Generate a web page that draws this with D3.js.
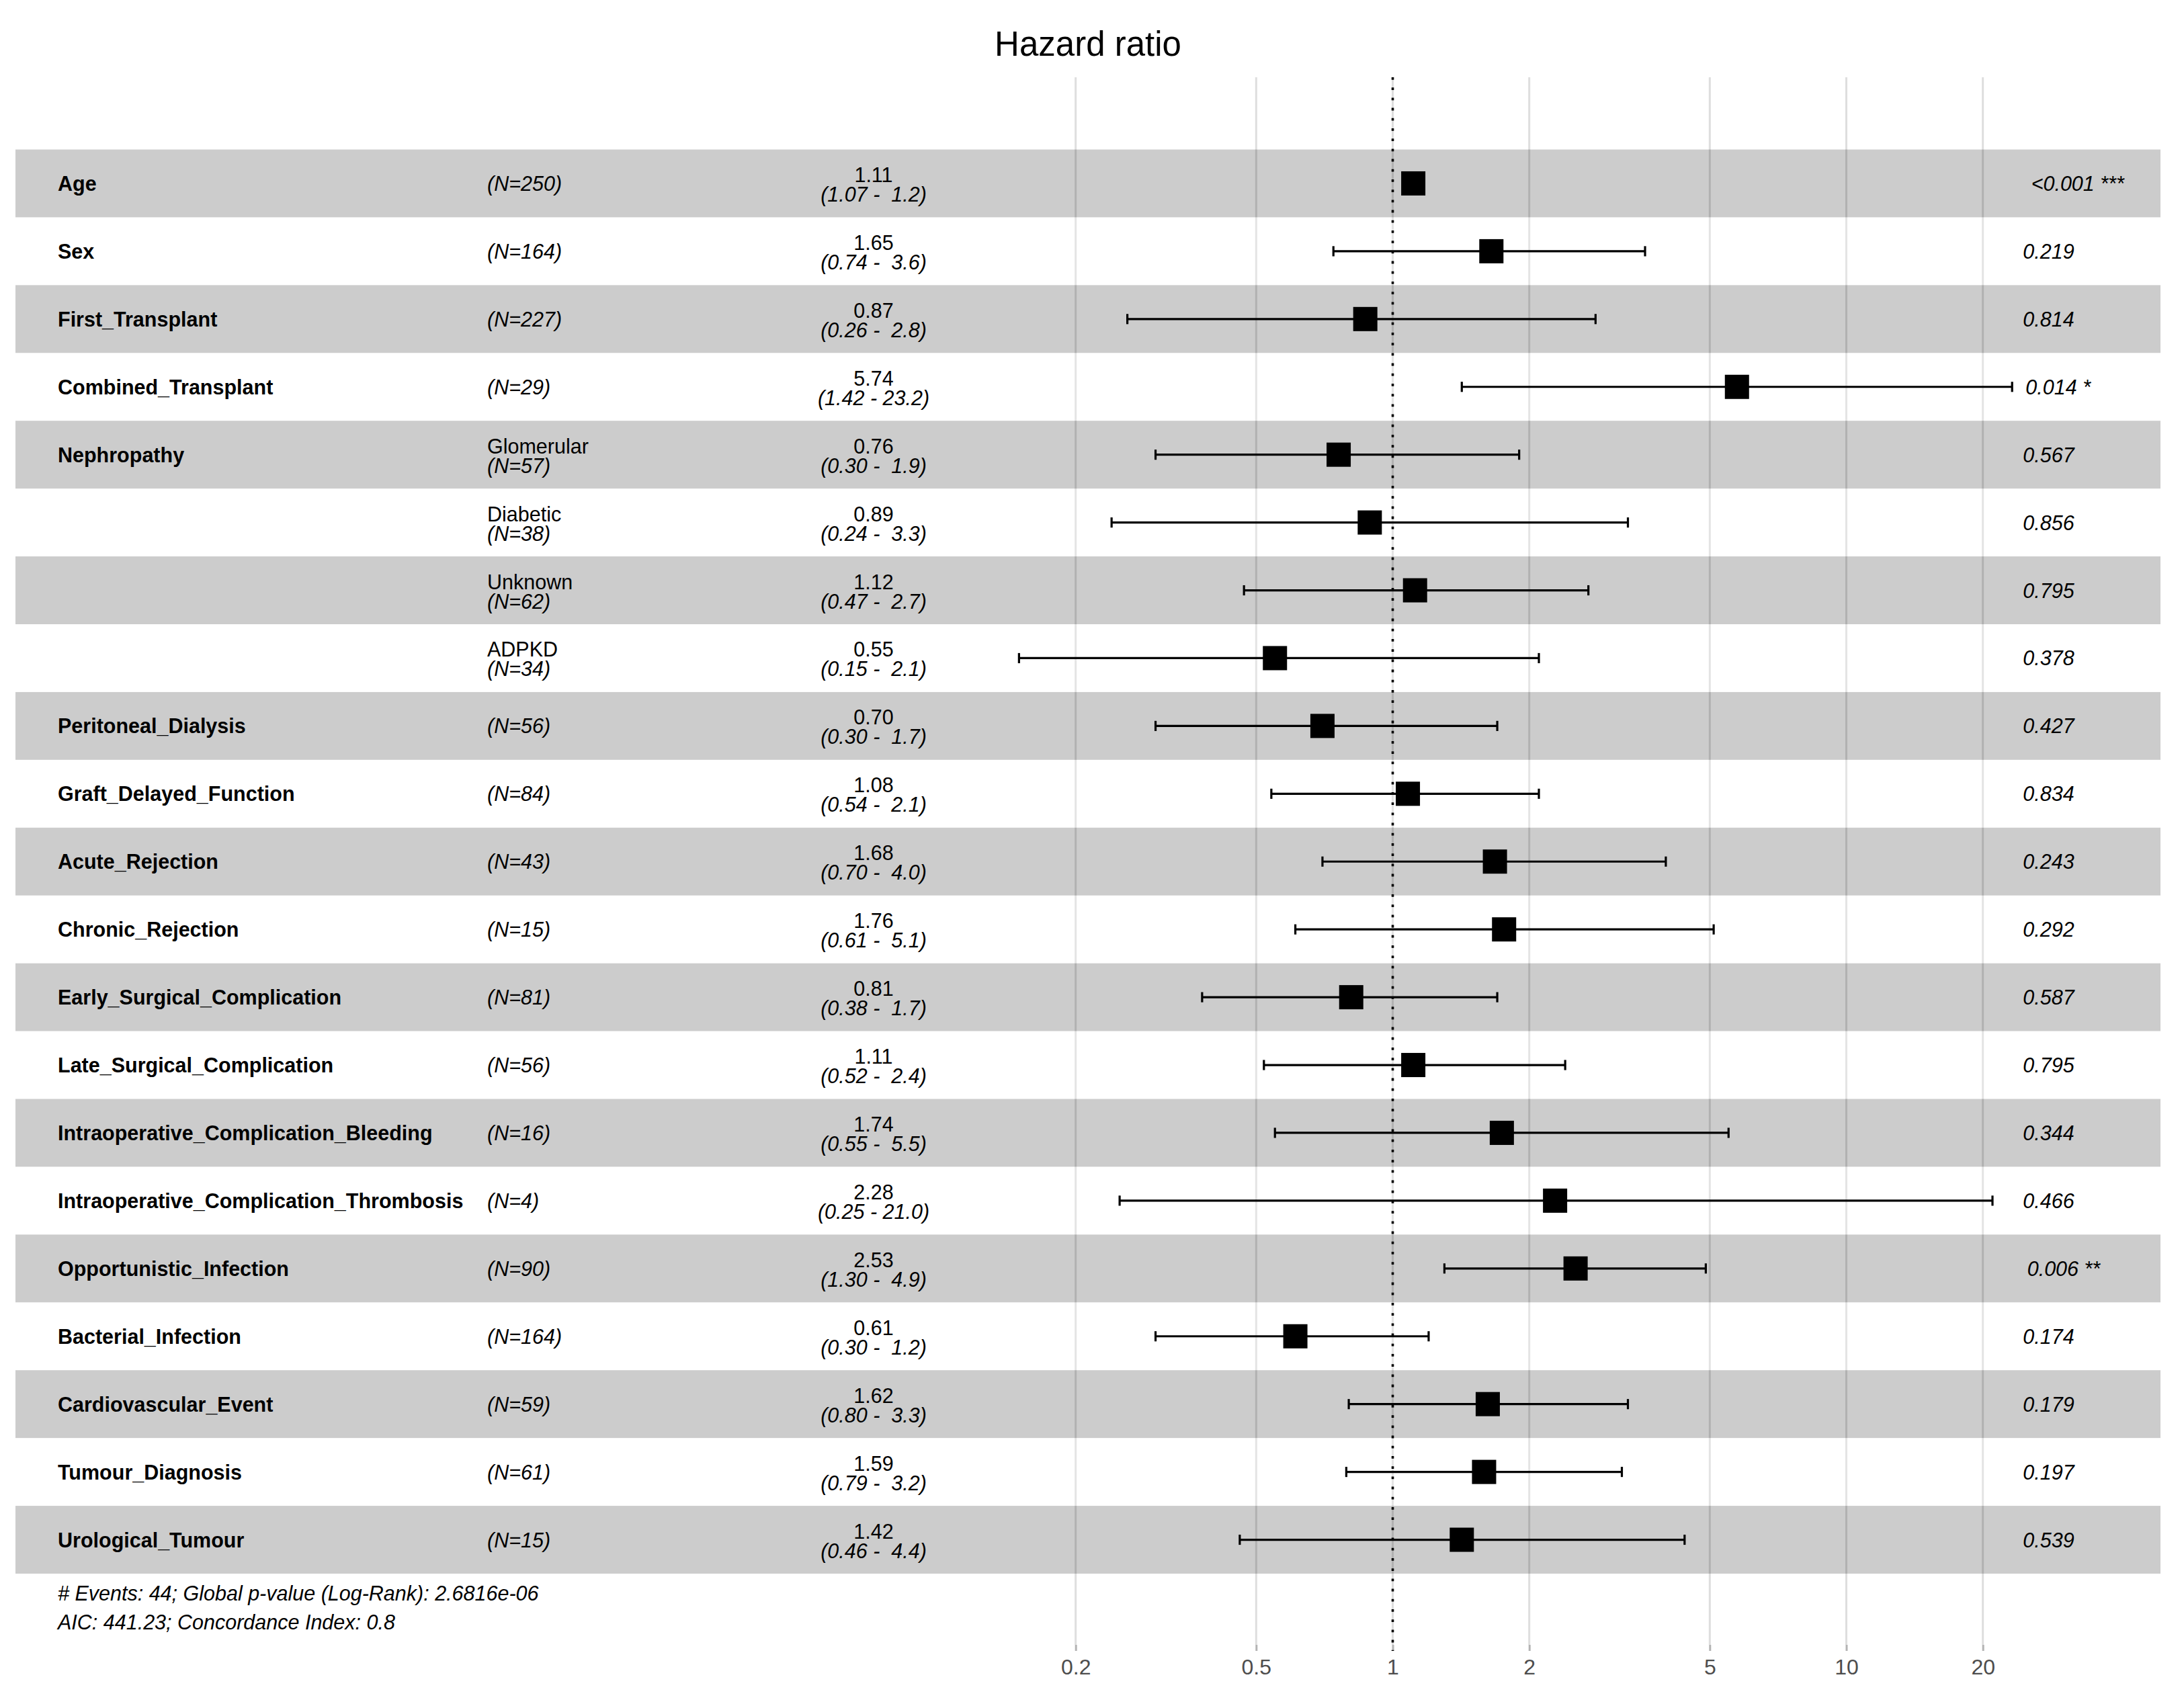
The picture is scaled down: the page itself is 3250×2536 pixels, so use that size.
<!DOCTYPE html>
<html>
<head>
<meta charset="utf-8">
<script src="https://cdn.jsdelivr.net/npm/d3@7"></script>
<style>
  body { margin: 0; background: #fff; }
  text { font-family: "Liberation Sans", Arial, sans-serif; white-space: pre; }
</style>
</head>
<body>
<div id="chart"></div>
<script>
// Cox model results, one entry per row (top to bottom)
const varNames = ["Age", "Sex", "First_Transplant", "Combined_Transplant", "Nephropathy", "", "", "",
  "Peritoneal_Dialysis", "Graft_Delayed_Function", "Acute_Rejection", "Chronic_Rejection",
  "Early_Surgical_Complication", "Late_Surgical_Complication", "Intraoperative_Complication_Bleeding",
  "Intraoperative_Complication_Thrombosis", "Opportunistic_Infection", "Bacterial_Infection",
  "Cardiovascular_Event", "Tumour_Diagnosis", "Urological_Tumour"];
const levels = ["", "", "", "", "Glomerular", "Diabetic", "Unknown", "ADPKD", "", "", "", "", "", "", "", "", "", "", "", "", ""];
const nObs = [250, 164, 227, 29, 57, 38, 62, 34, 56, 84, 43, 15, 81, 56, 16, 4, 90, 164, 59, 61, 15];
const hr = [1.11, 1.65, 0.87, 5.74, 0.76, 0.89, 1.12, 0.55, 0.70, 1.08, 1.68, 1.76, 0.81, 1.11, 1.74, 2.28, 2.53, 0.61, 1.62, 1.59, 1.42];
const ciLow = [1.07, 0.74, 0.26, 1.42, 0.30, 0.24, 0.47, 0.15, 0.30, 0.54, 0.70, 0.61, 0.38, 0.52, 0.55, 0.25, 1.30, 0.30, 0.80, 0.79, 0.46];
const ciHigh = [1.16, 3.6, 2.8, 23.2, 1.9, 3.3, 2.7, 2.1, 1.7, 2.1, 4.0, 5.1, 1.7, 2.4, 5.5, 21.0, 4.9, 1.2, 3.3, 3.2, 4.4];
const pLabels = ["<0.001 ***", "0.219", "0.814", "0.014 *", "0.567", "0.856", "0.795", "0.378", "0.427", "0.834",
  "0.243", "0.292", "0.587", "0.795", "0.344", "0.466", "0.006 **", "0.174", "0.179", "0.197", "0.539"];
const tickValues = [0.2, 0.5, 1, 2, 5, 10, 20];
const footerLines = ["# Events: 44; Global p-value (Log-Rank): 2.6816e-06", "AIC: 441.23; Concordance Index: 0.8"];
const title = "Hazard ratio";

const width = 3250, height = 2536;
const fs = 30.5;

const svg = d3.select("#chart").append("svg")
  .attr("width", width)
  .attr("height", height);

// scales: log x for hazard ratio, band y for rows
const x = d3.scaleLog()
  .domain([0.2, 20])
  .range([1600.7, 2950.7]);

const y = d3.scaleBand()
  .domain(d3.range(varNames.length))
  .range([222.5, 2342])
  .padding(0);

const panelTop = 115, panelBottom = 2448;
const bandLeft = 23, bandRight = 3215;

// gridlines
svg.append("g")
  .selectAll("line")
  .data(tickValues)
  .enter().append("line")
  .attr("x1", d => x(d)).attr("x2", d => x(d))
  .attr("y1", panelTop).attr("y2", panelBottom)
  .attr("stroke", "#dedede")
  .attr("stroke-width", 3);

// striped row backgrounds (semi transparent like the original)
svg.append("g")
  .selectAll("rect")
  .data(d3.range(varNames.length))
  .enter().append("rect")
  .attr("x", bandLeft)
  .attr("y", i => y(i))
  .attr("width", bandRight - bandLeft)
  .attr("height", y.bandwidth())
  .attr("fill", i => i % 2 === 0 ? "rgba(0,0,0,0.2)" : "rgba(255,255,255,0.2)");

// x axis
const axis = svg.append("g")
  .attr("transform", `translate(0,${panelBottom})`)
  .call(d3.axisBottom(x).tickValues(tickValues).tickFormat(d => String(d)).tickSize(9).tickPadding(12));
axis.select(".domain").remove();
axis.selectAll(".tick line").attr("stroke", "#b3b3b3").attr("stroke-width", 3);
axis.selectAll(".tick text")
  .attr("fill", "#4d4d4d")
  .style("font-size", "32px")
  .style("font-family", "'Liberation Sans', Arial, sans-serif");

const rows = d3.range(varNames.length).map(i => ({
  i, name: varNames[i], level: levels[i], n: nObs[i], hr: hr[i], lo: ciLow[i], hi: ciHigh[i], p: pLabels[i],
  cy: y(i) + y.bandwidth() / 2
}));

// squares
const sq = 36;
svg.append("g")
  .selectAll("rect")
  .data(rows)
  .enter().append("rect")
  .attr("x", d => x(d.hr) - sq / 2)
  .attr("y", d => d.cy - sq / 2)
  .attr("width", sq)
  .attr("height", sq)
  .attr("fill", "#000");

// error bars
const cap = 0.15 * y.bandwidth() / 2;
const eb = svg.append("g").attr("stroke", "#000").attr("stroke-width", 3.2);
eb.selectAll(".h").data(rows).enter().append("line")
  .attr("x1", d => x(d.lo)).attr("x2", d => x(d.hi))
  .attr("y1", d => d.cy).attr("y2", d => d.cy);
eb.selectAll(".l").data(rows).enter().append("line")
  .attr("x1", d => x(d.lo)).attr("x2", d => x(d.lo))
  .attr("y1", d => d.cy - cap).attr("y2", d => d.cy + cap);
eb.selectAll(".u").data(rows).enter().append("line")
  .attr("x1", d => x(d.hi)).attr("x2", d => x(d.hi))
  .attr("y1", d => d.cy - cap).attr("y2", d => d.cy + cap);

// reference line at 1
svg.append("line")
  .attr("x1", x(1)).attr("x2", x(1))
  .attr("y1", panelTop).attr("y2", panelBottom + 9)
  .attr("stroke", "#000")
  .attr("stroke-width", 3.6)
  .attr("stroke-dasharray", "3.8,11.4");

// text columns
const txt = svg.append("g").style("font-size", fs + "px").attr("fill", "#000");

txt.selectAll(".var").data(rows).enter().append("text")
  .attr("x", 86)
  .attr("y", d => d.cy + 11)
  .attr("font-weight", "bold")
  .text(d => d.name);

txt.selectAll(".lev").data(rows.filter(d => d.level !== "")).enter().append("text")
  .attr("x", 725)
  .attr("y", d => d.cy - 2)
  .text(d => d.level);

txt.selectAll(".n").data(rows).enter().append("text")
  .attr("x", 725)
  .attr("y", d => d.level === "" ? d.cy + 11 : d.cy + 27)
  .attr("font-style", "italic")
  .text(d => `(N=${d.n})`);

const fmtHi = v => v >= 10 ? v.toFixed(1) : v.toPrecision(2);
const pad = (s, w) => " ".repeat(Math.max(0, w - s.length)) + s;

txt.selectAll(".hr").data(rows).enter().append("text")
  .attr("x", 1300)
  .attr("y", d => d.cy - 2)
  .attr("text-anchor", "middle")
  .text(d => d.hr.toFixed(2));

txt.selectAll(".ci").data(rows).enter().append("text")
  .attr("x", 1300)
  .attr("y", d => d.cy + 27)
  .attr("text-anchor", "middle")
  .attr("font-style", "italic")
  .text(d => `(${d.lo.toFixed(2)} - ${pad(fmtHi(d.hi), 4)})`);

// p-values, shifted right by a fifth of their width (hjust = -0.2)
txt.selectAll(".p").data(rows).enter().append("text")
  .attr("y", d => d.cy + 11)
  .attr("font-style", "italic")
  .text(d => d.p)
  .attr("x", function() { return 2995 + 0.2 * this.getComputedTextLength(); });

// footer
svg.append("g")
  .selectAll("text")
  .data(footerLines)
  .enter().append("text")
  .attr("x", 86)
  .attr("y", (d, i) => 2382 + i * 43)
  .attr("font-style", "italic")
  .style("font-size", "30.5px")
  .text(d => d);

// title
svg.append("text")
  .attr("x", (bandLeft + bandRight) / 2)
  .attr("y", 83)
  .attr("text-anchor", "middle")
  .style("font-size", "51px")
  .text(title);
</script>
</body>
</html>
